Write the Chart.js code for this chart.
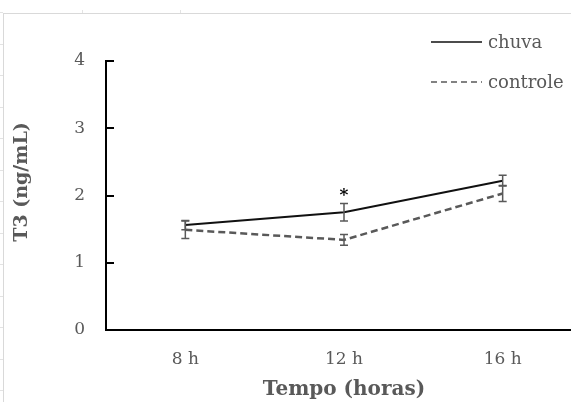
<!DOCTYPE html>
<html>
<head>
<meta charset="utf-8">
<script src="https://cdn.jsdelivr.net/npm/chart.js@4/dist/chart.umd.min.js"></script>
<style>
  html, body { margin: 0; padding: 0; background: #fff; overflow: hidden; width: 571px; height: 402px; }
  #frame { position: absolute; left: 3px; top: 13px; width: 600px; height: 400px;
           border-left: 1px solid #d9d9d9; border-top: 1px solid #d9d9d9; }
  #rows { position: absolute; left: 0; top: 12px; width: 3px; height: 390px;
          background: repeating-linear-gradient(to bottom, #e3e3e3 0 1px, transparent 1px 31.5px); }
  #cols { position: absolute; left: 0; top: 10px; width: 571px; height: 3px;
          background: repeating-linear-gradient(to right, transparent 0 82px, #e3e3e3 82px 83px, transparent 83px 180px, #e3e3e3 180px 181px, transparent 181px 571px); }
  #wrap { position: absolute; left: 0; top: 0; width: 600px; height: 402px; }
</style>
</head>
<body>
<div id="rows"></div>
<div id="cols"></div>
<div id="frame"></div>
<div id="wrap"><canvas id="c" width="600" height="402"></canvas></div>
<script>
const categories = ['8 h', '12 h', '16 h'];
const chuva = [1.56, 1.75, 2.22];
const chuvaErr = [0.07, 0.13, 0.08];
const controle = [1.49, 1.34, 2.03];
const controleErr = [0.13, 0.08, 0.12];
const significance = ['', '*', ''];
const yTicks = [0, 1, 2, 3, 4];
const xTitle = 'Tempo (horas)';
const yTitle = 'T3 (ng/mL)';

const GRAY = '#595959';
const FONT = '"DejaVu Serif", serif';

const errorBars = {
  id: 'errorBars',
  afterDatasetsDraw(chart) {
    const ctx = chart.ctx;
    const x = chart.scales.x, y = chart.scales.y;
    const errs = [chuvaErr, controleErr];
    ctx.save();
    ctx.strokeStyle = GRAY;
    ctx.lineWidth = 1.5;
    chart.data.datasets.forEach((ds, di) => {
      ds.data.forEach((v, i) => {
        const px = x.getPixelForValue(i);
        const top = y.getPixelForValue(v + errs[di][i]);
        const bot = y.getPixelForValue(v - errs[di][i]);
        ctx.beginPath();
        ctx.moveTo(px, top); ctx.lineTo(px, bot);
        ctx.moveTo(px - 4, top); ctx.lineTo(px + 4, top);
        ctx.moveTo(px - 4, bot); ctx.lineTo(px + 4, bot);
        ctx.stroke();
      });
    });
    // significance marks
    ctx.fillStyle = '#000';
    ctx.font = 'bold 17px ' + FONT;
    ctx.textAlign = 'center';
    ctx.textBaseline = 'middle';
    significance.forEach((s, i) => {
      if (!s) return;
      const px = x.getPixelForValue(i);
      const py = y.getPixelForValue(chuva[i] + chuvaErr[i]) - 9;
      ctx.fillText(s, px, py + 1);
    });
    // inward y ticks
    ctx.strokeStyle = '#000';
    ctx.lineWidth = 2;
    yTicks.forEach(t => {
      const py = Math.round(y.getPixelForValue(t));
      ctx.beginPath();
      ctx.moveTo(chart.chartArea.left, py);
      ctx.lineTo(chart.chartArea.left + 8, py);
      ctx.stroke();
    });
    // y title
    ctx.save();
    ctx.fillStyle = GRAY;
    ctx.font = 'bold 19px ' + FONT;
    ctx.translate(22, 182);
    ctx.rotate(-Math.PI / 2);
    ctx.textAlign = 'center';
    ctx.textBaseline = 'middle';
    ctx.fillText(yTitle, 0, 0);
    ctx.restore();
    // legend
    const items = [
      { ds: chart.data.datasets[0], y: 42 },
      { ds: chart.data.datasets[1], y: 82 }
    ];
    items.forEach(it => {
      ctx.save();
      ctx.strokeStyle = it.ds.borderColor;
      ctx.lineWidth = 1.5;
      ctx.setLineDash(it.ds.borderDash ? [6, 4] : []);
      ctx.beginPath();
      ctx.moveTo(431, it.y); ctx.lineTo(482, it.y);
      ctx.stroke();
      ctx.restore();
      ctx.fillStyle = GRAY;
      ctx.font = '18px ' + FONT;
      ctx.textAlign = 'left';
      ctx.textBaseline = 'middle';
      ctx.fillText(it.ds.label, 488, it.y + 1);
    });
    ctx.restore();
  }
};

new Chart(document.getElementById('c'), {
  type: 'line',
  data: {
    labels: categories,
    datasets: [
      { label: 'chuva', data: chuva, borderColor: '#111', borderWidth: 2, pointRadius: 0, tension: 0, fill: false },
      { label: 'controle', data: controle, borderColor: GRAY, borderWidth: 2.5, borderDash: [7, 4], pointRadius: 0, tension: 0, fill: false }
    ]
  },
  options: {
    responsive: false,
    animation: false,
    layout: { padding: { left: 0, right: 18, top: 61, bottom: 0 } },
    plugins: { legend: { display: false }, tooltip: { enabled: false } },
    scales: {
      x: {
        type: 'category',
        offset: true,
        grid: { display: false, drawTicks: false },
        border: { display: true, color: '#000', width: 2 },
        ticks: { color: GRAY, font: { family: FONT, size: 17 }, padding: 19, maxRotation: 0 },
        title: { display: true, text: xTitle, color: GRAY, font: { family: FONT, size: 20, weight: 'bold' }, padding: { top: 0, bottom: 0 } },
        afterFit(s) { s.height = 72; }
      },
      y: {
        min: 0, max: 4,
        afterBuildTicks(s) { s.ticks = yTicks.map(v => ({ value: v })); },
        grid: { display: false, drawTicks: false },
        border: { display: true, color: '#000', width: 2 },
        ticks: { color: GRAY, font: { family: FONT, size: 17 }, padding: 21 },
        afterFit(s) { s.width = 106; }
      }
    }
  },
  plugins: [errorBars]
});
</script>
</body>
</html>
